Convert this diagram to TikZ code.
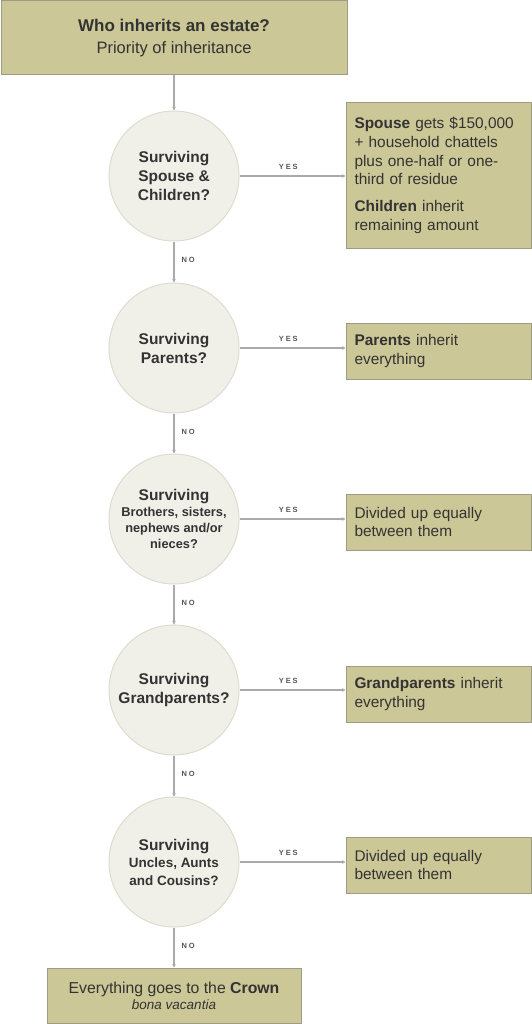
\documentclass[tikz,border=0pt]{standalone}
\usepackage{fontspec}
\setmainfont{Liberation Sans}
\newfontfamily\lblfont[LetterSpace=25]{Liberation Sans}
\usetikzlibrary{arrows.meta,shapes.geometric}
\definecolor{boxfill}{HTML}{CCC796}
\definecolor{boxline}{HTML}{9E9B85}
\definecolor{circfill}{HTML}{F1F0E8}
\definecolor{circline}{HTML}{DEDCD0}
\definecolor{txt}{HTML}{333333}
\definecolor{conn}{HTML}{AAAAAA}
\definecolor{lbl}{HTML}{555555}
\tikzset{
  x=1pt,y=-1pt,
  every node/.style={text=txt},
  qcirc/.style={circle,draw=circline,fill=circfill,line width=1pt,minimum size=130,inner sep=0,align=center,font=\fontsize{15.5}{19}\selectfont\bfseries},
  abox/.style={rectangle,draw=boxline,fill=boxfill,line width=1pt,minimum width=185,text width=168,inner xsep=8.5,align=left,font=\fontsize{15.4}{18.7}\selectfont},
  cbox/.style={rectangle,draw=boxline,fill=boxfill,line width=1pt,align=center},
  conn/.style={draw=conn,line width=1.2pt,-{Stealth[length=3.5pt,width=3.5pt]}},
  yeslbl/.style={font=\lblfont\fontsize{7.5}{8}\selectfont\bfseries,text=lbl,inner sep=0},
}
\begin{document}
\begin{tikzpicture}
\useasboundingbox (0,0) rectangle (532,1024);
% title
\node[cbox,minimum width=346,minimum height=74,font=\fontsize{17}{21.5}\selectfont] (title) at (174,38)
  {{\bfseries Who inherits an estate?}\\{\fontsize{16.5}{21.5}\selectfont Priority of inheritance}};
% questions
\node[qcirc] (q1) at (174,176) {Surviving\\Spouse \&\\Children?};
\node[qcirc] (q2) at (174,348) {Surviving\\Parents?};
\node[qcirc,font=\fontsize{12.8}{16}\selectfont\bfseries] (q3) at (174,519) {{\fontsize{15.5}{16}\selectfont Surviving}\\Brothers, sisters,\\nephews and/or\\nieces?};
\node[qcirc] (q4) at (174,690) {Surviving\\Grandparents?};
\node[qcirc,font=\fontsize{13.5}{17.5}\selectfont\bfseries] (q5) at (174,862) {{\fontsize{15.5}{17.5}\selectfont Surviving}\\Uncles, Aunts\\and Cousins?};
% answers
\node[abox,minimum height=145] (a1) at (438.5,175.5)
  {\textbf{Spouse} gets \$150,000\\+ household chattels\\plus one-half or one-\\third of residue\\[8pt]\textbf{Children} inherit\\remaining amount};
\node[abox,minimum height=56] (a2) at (438.5,351) {\textbf{Parents} inherit\\everything};
\node[abox,minimum height=56] (a3) at (438.5,522) {Divided up equally\\between them};
\node[abox,minimum height=56] (a4) at (438.5,694) {\textbf{Grandparents} inherit\\everything};
\node[abox,minimum height=56] (a5) at (438.5,865) {Divided up equally\\between them};
% crown
\node[cbox,minimum width=254,minimum height=55,font=\fontsize{15.8}{16}\selectfont] (crown) at (174,995.5)
  {Everything goes to the \textbf{Crown}\\{\fontsize{13.5}{16}\selectfont\itshape bona vacantia}};
% connectors
\draw[conn] (title) -- (q1);
\draw[conn] (q1) -- (q2) node[yeslbl,pos=0.45,anchor=west,xshift=7] (n1) {NO};
\draw[conn] (q2) -- (q3) node[yeslbl,pos=0.45,anchor=west,xshift=7] (n2) {NO};
\draw[conn] (q3) -- (q4) node[yeslbl,pos=0.45,anchor=west,xshift=7] (n3) {NO};
\draw[conn] (q4) -- (q5) node[yeslbl,pos=0.45,anchor=west,xshift=7] (n4) {NO};
\draw[conn] (q5) -- (crown) node[yeslbl,pos=0.45,anchor=west,xshift=7] (n5) {NO};
\draw[conn] (q1.east) -- (a1.west |- q1.east) node[yeslbl,pos=0.46,anchor=south,yshift=6] (y1) {YES};
\draw[conn] (q2.east) -- (a2.west |- q2.east) node[yeslbl,pos=0.46,anchor=south,yshift=6] (y2) {YES};
\draw[conn] (q3.east) -- (a3.west |- q3.east) node[yeslbl,pos=0.46,anchor=south,yshift=6] (y3) {YES};
\draw[conn] (q4.east) -- (a4.west |- q4.east) node[yeslbl,pos=0.46,anchor=south,yshift=6] (y4) {YES};
\draw[conn] (q5.east) -- (a5.west |- q5.east) node[yeslbl,pos=0.46,anchor=south,yshift=6] (y5) {YES};
\end{tikzpicture}
\end{document}
